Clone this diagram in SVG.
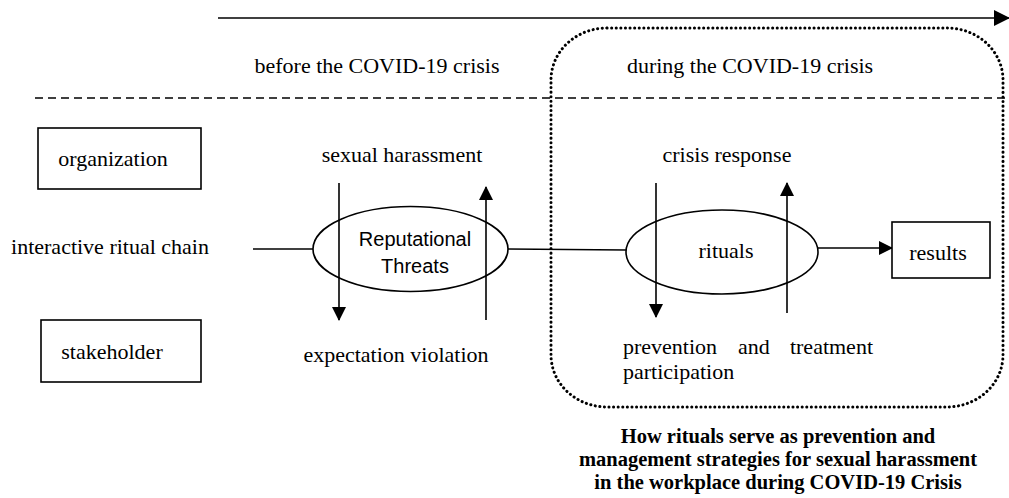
<svg xmlns="http://www.w3.org/2000/svg" width="1009" height="498" viewBox="0 0 1009 498">
<style>
.t{font-family:"Liberation Serif","Times New Roman",serif;font-size:22px;fill:#000}
.s{font-family:"Liberation Sans",Arial,sans-serif;font-size:20px;fill:#000}
.b{font-family:"Liberation Serif","Times New Roman",serif;font-size:20.5px;font-weight:bold;fill:#000}
.ln{stroke:#000;stroke-width:1.6;fill:none}
.box{stroke:#000;stroke-width:1.6;fill:#fff}
</style>
<defs>
<marker id="ah" markerWidth="14" markerHeight="14" refX="13" refY="7" orient="auto" markerUnits="userSpaceOnUse" viewBox="0 0 14 14">
<path d="M0,0 L14,7 L0,14 z" fill="#000"/>
</marker>
<marker id="ahb" markerWidth="16" markerHeight="16" refX="15" refY="8" orient="auto" markerUnits="userSpaceOnUse" viewBox="0 0 16 16">
<path d="M0,0 L16,8 L0,16 z" fill="#000"/>
</marker>
</defs>
<g id="timeline">
<line x1="218" y1="18" x2="1009" y2="18" class="ln" stroke-width="2" marker-end="url(#ahb)"/>
<line x1="35" y1="98" x2="1009" y2="98" stroke="#000" stroke-width="1.6" stroke-dasharray="8,5"/>
<rect x="551" y="28" width="452" height="379" rx="56" ry="52" fill="none" stroke="#000" stroke-width="3" stroke-dasharray="0.1,4.5" stroke-linecap="round"/>
<text class="t" x="377" y="73" text-anchor="middle">before the COVID-19 crisis</text>
<text class="t" x="750" y="73" text-anchor="middle">during the COVID-19 crisis</text>
</g>
<g id="connectors">
<line x1="253" y1="249" x2="313" y2="249" class="ln"/>
<line x1="508" y1="249" x2="626" y2="250" class="ln"/>
<line x1="818" y1="248" x2="892" y2="248" class="ln" marker-end="url(#ah)"/>
<line x1="339" y1="183" x2="339" y2="320" class="ln" marker-end="url(#ah)"/>
<line x1="486" y1="320" x2="486" y2="187" class="ln" marker-end="url(#ah)"/>
<line x1="656" y1="183" x2="656" y2="317" class="ln" marker-end="url(#ah)"/>
<line x1="787" y1="313" x2="787" y2="183" class="ln" marker-end="url(#ah)"/>
</g>
<g id="organization">
<rect x="38" y="128" width="163" height="61" class="box"/>
<text class="t" x="113" y="166" text-anchor="middle">organization</text>
</g>
<g id="stakeholder">
<rect x="41" y="320" width="160" height="62" class="box"/>
<text class="t" x="112" y="359" text-anchor="middle">stakeholder</text>
</g>
<g id="chain">
<text class="t" x="110" y="254" text-anchor="middle">interactive ritual chain</text>
</g>
<g id="reputational">
<ellipse cx="410.5" cy="249" rx="97.5" ry="42.5" class="ln"/>
<text class="s" x="415" y="246" text-anchor="middle">Reputational</text>
<text class="s" x="415" y="273" text-anchor="middle">Threats</text>
</g>
<g id="sexual-harassment">
<text class="t" x="402" y="162" text-anchor="middle">sexual harassment</text>
</g>
<g id="expectation">
<text class="t" x="396" y="362" text-anchor="middle">expectation violation</text>
</g>
<g id="rituals">
<ellipse cx="722" cy="252" rx="96" ry="42" class="ln"/>
<text class="t" x="726" y="258" text-anchor="middle">rituals</text>
</g>
<g id="crisis-response">
<text class="t" x="727" y="162" text-anchor="middle">crisis response</text>
</g>
<g id="prevention">
<text class="t" x="623" y="354">prevention</text>
<text class="t" x="738" y="354">and</text>
<text class="t" x="873" y="354" text-anchor="end">treatment</text>
<text class="t" x="623" y="379">participation</text>
</g>
<g id="results">
<rect x="892" y="222" width="98" height="56" class="box"/>
<text class="t" x="938" y="260" text-anchor="middle">results</text>
</g>
<g id="caption">
<text class="b" x="778" y="443" text-anchor="middle">How rituals serve as prevention and</text>
<text class="b" x="778" y="466" text-anchor="middle">management strategies for sexual harassment</text>
<text class="b" x="778" y="489" text-anchor="middle">in the workplace during COVID-19 Crisis</text>
</g>
</svg>
